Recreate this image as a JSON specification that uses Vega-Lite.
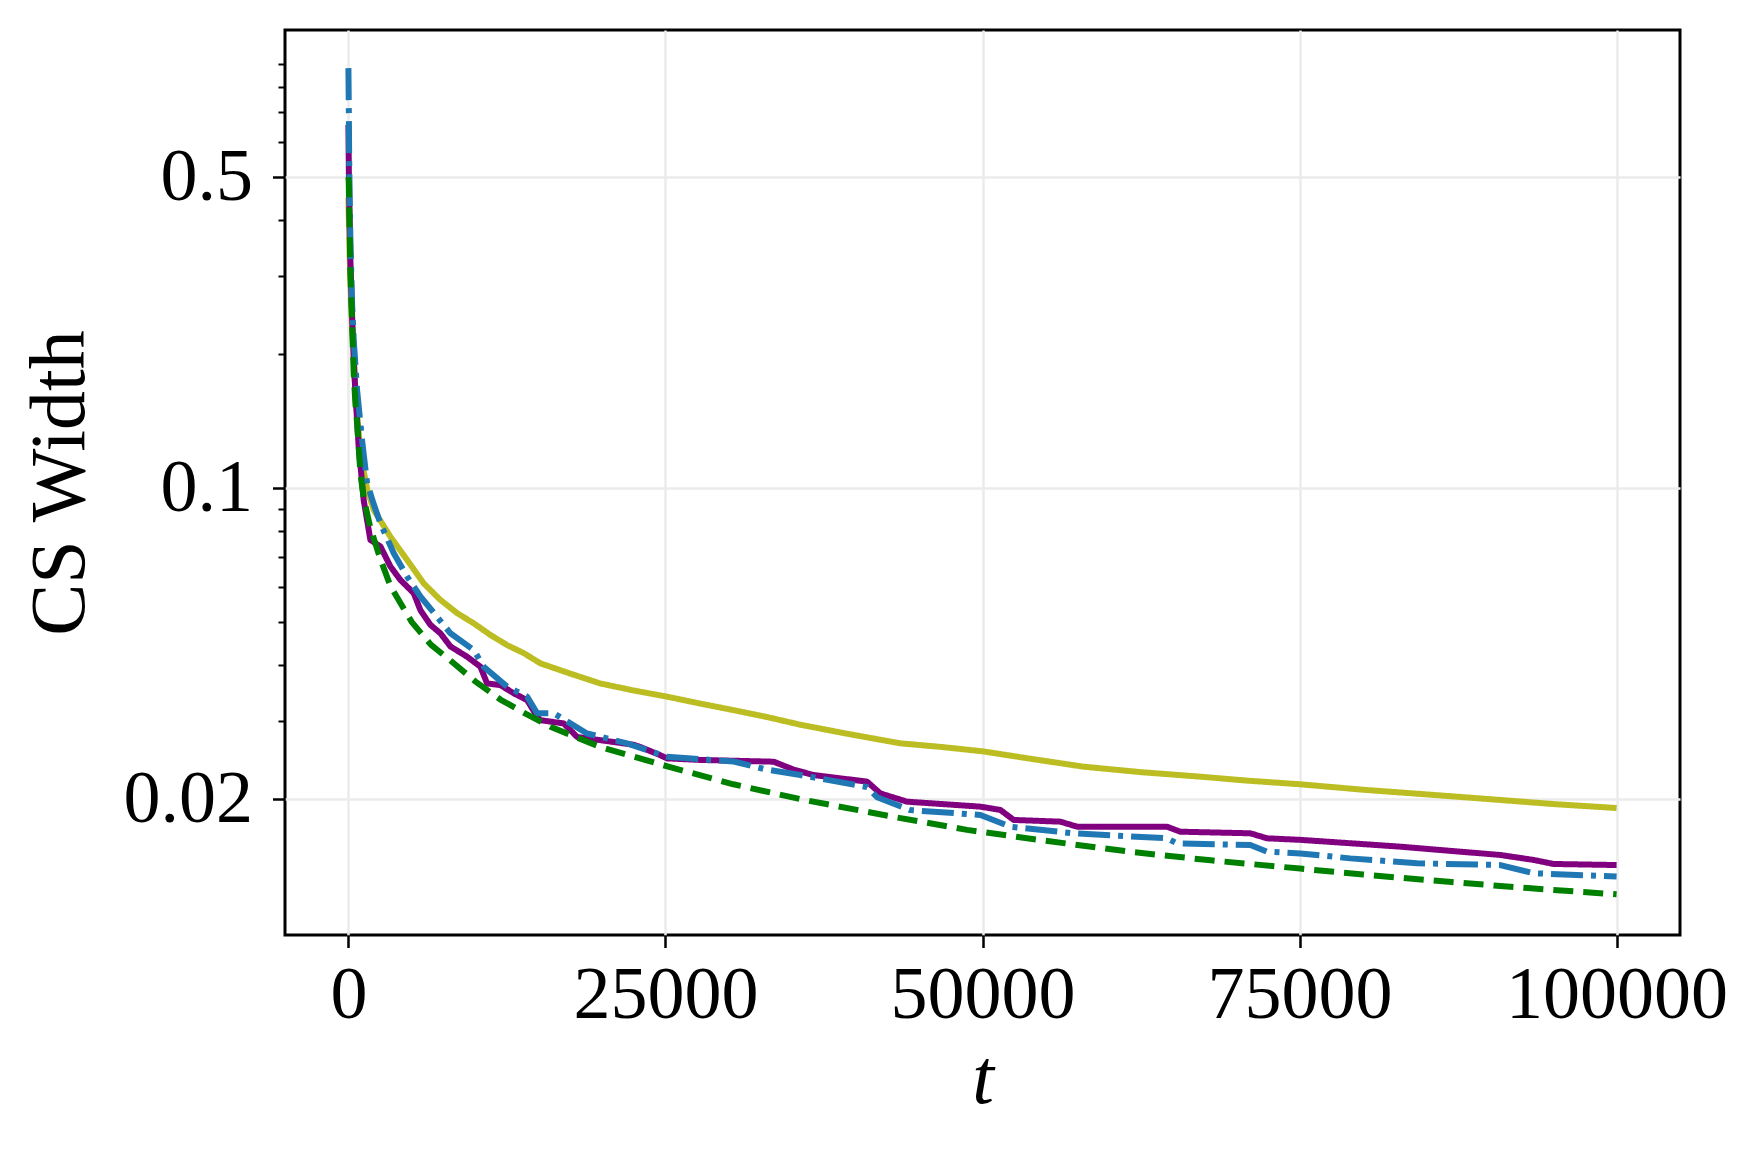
{
  "$schema": "https://vega.github.io/schema/vega-lite/v6.json",
  "width": 1395,
  "height": 905,
  "autosize": {"type": "none"},
  "padding": {"left": 285, "top": 30, "right": 80, "bottom": 224},
  "background": "white",
  "config": {
    "view": {"stroke": "black", "strokeWidth": 3},
    "font": "Liberation Serif",
    "axis": {
      "domain": false,
      "tickColor": "black",
      "tickWidth": 2.5,
      "labelColor": "black",
      "titleColor": "black",
      "labelFont": "Liberation Serif",
      "titleFont": "Liberation Serif",
      "labelLimit": 0,
      "gridColor": "#ebebeb",
      "gridWidth": 2.5
    }
  },
  "data": {
    "values": [
      {"s": "olive", "t": 0, "v": 0.45},
      {"s": "olive", "t": 100, "v": 0.33},
      {"s": "olive", "t": 290, "v": 0.23},
      {"s": "olive", "t": 600, "v": 0.155},
      {"s": "olive", "t": 1000, "v": 0.117},
      {"s": "olive", "t": 1500, "v": 0.099},
      {"s": "olive", "t": 1995, "v": 0.0894},
      {"s": "olive", "t": 3312, "v": 0.0778},
      {"s": "olive", "t": 4628, "v": 0.069},
      {"s": "olive", "t": 5937, "v": 0.0611},
      {"s": "olive", "t": 7254, "v": 0.0561},
      {"s": "olive", "t": 8571, "v": 0.0524},
      {"s": "olive", "t": 9880, "v": 0.0497},
      {"s": "olive", "t": 11197, "v": 0.0468},
      {"s": "olive", "t": 12513, "v": 0.0444},
      {"s": "olive", "t": 13822, "v": 0.0426},
      {"s": "olive", "t": 15139, "v": 0.0404},
      {"s": "olive", "t": 17500, "v": 0.0383},
      {"s": "olive", "t": 19869, "v": 0.0364},
      {"s": "olive", "t": 22500, "v": 0.0351},
      {"s": "olive", "t": 25125, "v": 0.034},
      {"s": "olive", "t": 27750, "v": 0.0328},
      {"s": "olive", "t": 30380, "v": 0.0317},
      {"s": "olive", "t": 33000, "v": 0.0306},
      {"s": "olive", "t": 35638, "v": 0.0294},
      {"s": "olive", "t": 39500, "v": 0.028},
      {"s": "olive", "t": 43523, "v": 0.0267},
      {"s": "olive", "t": 46800, "v": 0.0262},
      {"s": "olive", "t": 50090, "v": 0.0256},
      {"s": "olive", "t": 54000, "v": 0.0246},
      {"s": "olive", "t": 57975, "v": 0.02366},
      {"s": "olive", "t": 62500, "v": 0.023},
      {"s": "olive", "t": 67177, "v": 0.02247},
      {"s": "olive", "t": 71000, "v": 0.022},
      {"s": "olive", "t": 75060, "v": 0.0216},
      {"s": "olive", "t": 80000, "v": 0.021},
      {"s": "olive", "t": 85000, "v": 0.0205},
      {"s": "olive", "t": 90000, "v": 0.02},
      {"s": "olive", "t": 95000, "v": 0.0195},
      {"s": "olive", "t": 100000, "v": 0.0191},

      {"s": "purple", "t": 0, "v": 0.656},
      {"s": "purple", "t": 40, "v": 0.5},
      {"s": "purple", "t": 150, "v": 0.33},
      {"s": "purple", "t": 300, "v": 0.24},
      {"s": "purple", "t": 500, "v": 0.175},
      {"s": "purple", "t": 800, "v": 0.125},
      {"s": "purple", "t": 1206, "v": 0.094},
      {"s": "purple", "t": 1735, "v": 0.0765},
      {"s": "purple", "t": 2523, "v": 0.074},
      {"s": "purple", "t": 3312, "v": 0.0667},
      {"s": "purple", "t": 4100, "v": 0.0622},
      {"s": "purple", "t": 5150, "v": 0.0581},
      {"s": "purple", "t": 5677, "v": 0.0532},
      {"s": "purple", "t": 6466, "v": 0.0493},
      {"s": "purple", "t": 7254, "v": 0.0472},
      {"s": "purple", "t": 8043, "v": 0.0441},
      {"s": "purple", "t": 9359, "v": 0.0418},
      {"s": "purple", "t": 10408, "v": 0.0397},
      {"s": "purple", "t": 10937, "v": 0.0364},
      {"s": "purple", "t": 11985, "v": 0.0361},
      {"s": "purple", "t": 13034, "v": 0.0346},
      {"s": "purple", "t": 14090, "v": 0.0334},
      {"s": "purple", "t": 14880, "v": 0.0307},
      {"s": "purple", "t": 15139, "v": 0.0301},
      {"s": "purple", "t": 16977, "v": 0.0296},
      {"s": "purple", "t": 18033, "v": 0.0276},
      {"s": "purple", "t": 22496, "v": 0.0265},
      {"s": "purple", "t": 23025, "v": 0.0262},
      {"s": "purple", "t": 24601, "v": 0.0251},
      {"s": "purple", "t": 25130, "v": 0.0247},
      {"s": "purple", "t": 27756, "v": 0.0245},
      {"s": "purple", "t": 33536, "v": 0.02428},
      {"s": "purple", "t": 35113, "v": 0.0233},
      {"s": "purple", "t": 36690, "v": 0.02266},
      {"s": "purple", "t": 40900, "v": 0.0219},
      {"s": "purple", "t": 41950, "v": 0.0206},
      {"s": "purple", "t": 44053, "v": 0.01974},
      {"s": "purple", "t": 49836, "v": 0.01924},
      {"s": "purple", "t": 51413, "v": 0.01891},
      {"s": "purple", "t": 52460, "v": 0.01796},
      {"s": "purple", "t": 56143, "v": 0.0178},
      {"s": "purple", "t": 57460, "v": 0.01734},
      {"s": "purple", "t": 64553, "v": 0.01734},
      {"s": "purple", "t": 65600, "v": 0.0169},
      {"s": "purple", "t": 71120, "v": 0.01676},
      {"s": "purple", "t": 72440, "v": 0.01633},
      {"s": "purple", "t": 75060, "v": 0.0162},
      {"s": "purple", "t": 77170, "v": 0.01605},
      {"s": "purple", "t": 82950, "v": 0.01564},
      {"s": "purple", "t": 90830, "v": 0.01498},
      {"s": "purple", "t": 93460, "v": 0.0146},
      {"s": "purple", "t": 95030, "v": 0.0143},
      {"s": "purple", "t": 100000, "v": 0.01422},

      {"s": "blue", "t": 0, "v": 0.88},
      {"s": "blue", "t": 30, "v": 0.72},
      {"s": "blue", "t": 60, "v": 0.55},
      {"s": "blue", "t": 100, "v": 0.45},
      {"s": "blue", "t": 158, "v": 0.36},
      {"s": "blue", "t": 290, "v": 0.26},
      {"s": "blue", "t": 418, "v": 0.2155},
      {"s": "blue", "t": 686, "v": 0.166},
      {"s": "blue", "t": 1080, "v": 0.128},
      {"s": "blue", "t": 1474, "v": 0.1026},
      {"s": "blue", "t": 2000, "v": 0.092},
      {"s": "blue", "t": 2523, "v": 0.0834},
      {"s": "blue", "t": 3575, "v": 0.0714},
      {"s": "blue", "t": 4628, "v": 0.0633},
      {"s": "blue", "t": 5677, "v": 0.0571},
      {"s": "blue", "t": 6994, "v": 0.0514},
      {"s": "blue", "t": 8043, "v": 0.0472},
      {"s": "blue", "t": 9880, "v": 0.0433},
      {"s": "blue", "t": 10670, "v": 0.0397},
      {"s": "blue", "t": 12513, "v": 0.0358},
      {"s": "blue", "t": 14090, "v": 0.034},
      {"s": "blue", "t": 14880, "v": 0.0312},
      {"s": "blue", "t": 16190, "v": 0.0312},
      {"s": "blue", "t": 18820, "v": 0.0281},
      {"s": "blue", "t": 21975, "v": 0.0267},
      {"s": "blue", "t": 25130, "v": 0.0249},
      {"s": "blue", "t": 30380, "v": 0.0243},
      {"s": "blue", "t": 33010, "v": 0.0233},
      {"s": "blue", "t": 35638, "v": 0.02266},
      {"s": "blue", "t": 40900, "v": 0.0213},
      {"s": "blue", "t": 41690, "v": 0.0202},
      {"s": "blue", "t": 44300, "v": 0.0189},
      {"s": "blue", "t": 49836, "v": 0.01843},
      {"s": "blue", "t": 52200, "v": 0.01734},
      {"s": "blue", "t": 57190, "v": 0.01676},
      {"s": "blue", "t": 64553, "v": 0.01633},
      {"s": "blue", "t": 65340, "v": 0.0159},
      {"s": "blue", "t": 71120, "v": 0.01577},
      {"s": "blue", "t": 72440, "v": 0.01524},
      {"s": "blue", "t": 75060, "v": 0.0151},
      {"s": "blue", "t": 79000, "v": 0.01472},
      {"s": "blue", "t": 84270, "v": 0.01435},
      {"s": "blue", "t": 90830, "v": 0.01422},
      {"s": "blue", "t": 93460, "v": 0.01363},
      {"s": "blue", "t": 100000, "v": 0.0134},

      {"s": "green", "t": 0, "v": 0.5},
      {"s": "green", "t": 24, "v": 0.49},
      {"s": "green", "t": 100, "v": 0.38},
      {"s": "green", "t": 158, "v": 0.304},
      {"s": "green", "t": 290, "v": 0.235},
      {"s": "green", "t": 418, "v": 0.181},
      {"s": "green", "t": 552, "v": 0.155},
      {"s": "green", "t": 686, "v": 0.14},
      {"s": "green", "t": 946, "v": 0.108},
      {"s": "green", "t": 1206, "v": 0.095},
      {"s": "green", "t": 1735, "v": 0.0814},
      {"s": "green", "t": 2523, "v": 0.0693},
      {"s": "green", "t": 3311, "v": 0.0603},
      {"s": "green", "t": 4100, "v": 0.0552},
      {"s": "green", "t": 5000, "v": 0.05},
      {"s": "green", "t": 6500, "v": 0.0445},
      {"s": "green", "t": 8042, "v": 0.041},
      {"s": "green", "t": 10000, "v": 0.0368},
      {"s": "green", "t": 11985, "v": 0.0335},
      {"s": "green", "t": 14000, "v": 0.0311},
      {"s": "green", "t": 15927, "v": 0.0291},
      {"s": "green", "t": 19869, "v": 0.0262},
      {"s": "green", "t": 25152, "v": 0.0237},
      {"s": "green", "t": 30355, "v": 0.0216},
      {"s": "green", "t": 35638, "v": 0.02},
      {"s": "green", "t": 42970, "v": 0.01825},
      {"s": "green", "t": 48780, "v": 0.01706},
      {"s": "green", "t": 55000, "v": 0.01612},
      {"s": "green", "t": 61900, "v": 0.0152},
      {"s": "green", "t": 68000, "v": 0.01457},
      {"s": "green", "t": 75060, "v": 0.01396},
      {"s": "green", "t": 80000, "v": 0.01354},
      {"s": "green", "t": 87000, "v": 0.01302},
      {"s": "green", "t": 93000, "v": 0.01262},
      {"s": "green", "t": 100000, "v": 0.01222}
    ]
  },
  "encoding": {
    "x": {
      "field": "t",
      "type": "quantitative",
      "scale": {"domain": [-5000, 105000], "nice": false, "zero": false},
      "axis": {
        "values": [0, 25000, 50000, 75000, 100000],
        "format": "d",
        "title": "t",
        "titleFontStyle": "italic",
        "titleFontWeight": "normal",
        "titleFontSize": 78,
        "titlePadding": 8,
        "labelFontSize": 74,
        "labelPadding": 12,
        "labelLimit": 0,
        "tickSize": 12.5,
        "grid": true,
        "labelFlush": false,
        "labelOverlap": false
      }
    }
  },
  "layer": [
    {
      "mark": {"type": "line", "strokeWidth": 6, "strokeJoin": "round"},
      "encoding": {
        "y": {
          "field": "v",
          "type": "quantitative",
          "scale": {"type": "log", "domain": [0.0099, 1.072], "nice": false},
          "axis": {
            "values": [0.02, 0.1, 0.5],
            "format": "~g",
            "title": "CS Width",
            "titleFontWeight": "normal",
            "titleFontSize": 78,
            "titlePadding": 24,
            "labelFontSize": 74,
            "labelPadding": 20,
            "tickSize": 12.5,
            "grid": true,
            "labelFlush": false
          }
        },
        "color": {
          "field": "s",
          "type": "nominal",
          "scale": {"domain": ["olive", "purple", "blue", "green"], "range": ["#bcbd22", "#800080", "#1f77b4", "#008000"]},
          "legend": null
        },
        "strokeDash": {
          "field": "s",
          "type": "nominal",
          "scale": {"domain": ["olive", "purple", "blue", "green"], "range": [[1, 0], [1, 0], [32, 8, 5, 8], [20, 10]]},
          "legend": null
        },
        "order": {"field": "t", "type": "quantitative"}
      }
    },
    {
      "mark": {"type": "line", "strokeWidth": 1, "opacity": 0},
      "encoding": {
        "y": {
          "field": "v",
          "type": "quantitative",
          "axis": {
            "orient": "left",
            "values": [0.03, 0.04, 0.05, 0.06, 0.07, 0.08, 0.09, 0.2, 0.3, 0.4, 0.6, 0.7, 0.8, 0.9],
            "labels": false,
            "title": null,
            "grid": false,
            "tickSize": 7,
            "tickWidth": 2
          }
        },
        "detail": {"field": "s", "type": "nominal"},
        "order": {"field": "t", "type": "quantitative"}
      }
    }
  ],
  "resolve": {"axis": {"y": "independent"}}
}
